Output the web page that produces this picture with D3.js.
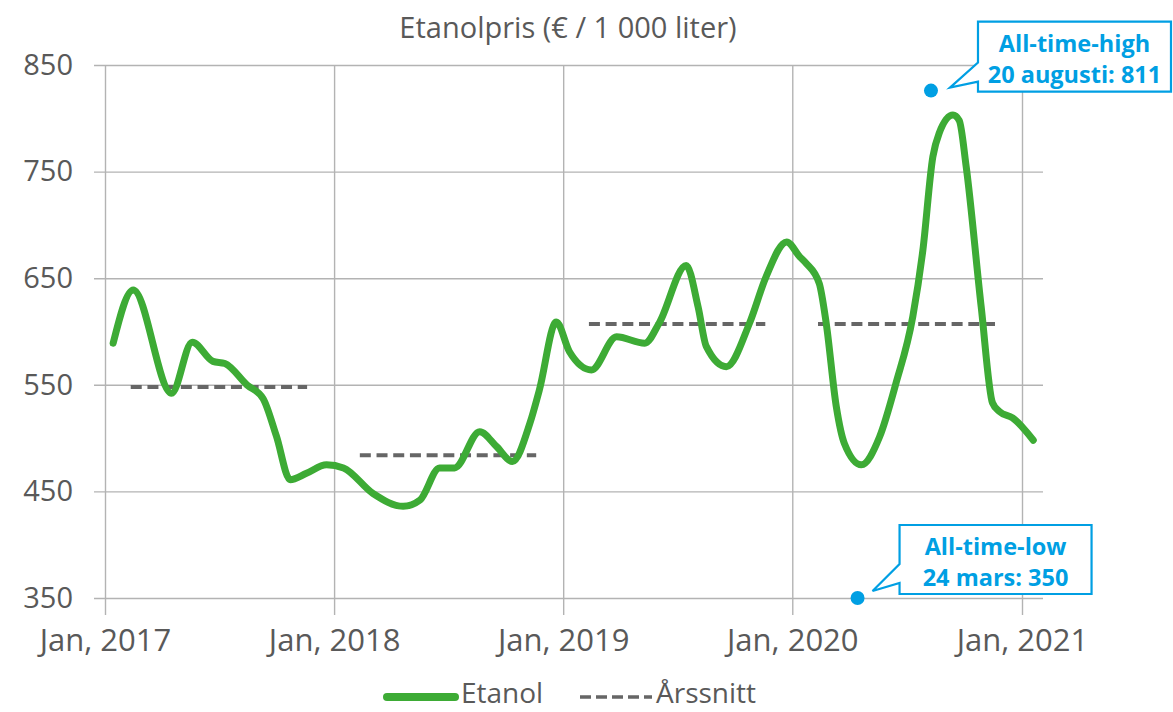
<!DOCTYPE html>
<html>
<head>
<meta charset="utf-8">
<script src="https://cdnjs.cloudflare.com/ajax/libs/d3/7.8.5/d3.min.js"></script>
<style>
  body { margin: 0; background: #fff; }
  text { font-family: "Open Sans", sans-serif; }
</style>
</head>
<body>
<svg id="chart" width="1173" height="712"></svg>
<script>
// ethanol price
var priceDates = ["2017-01-14","2017-02-15","2017-04-17","2017-05-20","2017-06-22","2017-07-11","2017-08-15","2017-09-10",
  "2017-10-01","2017-10-23","2017-11-18","2017-12-20","2018-01-16","2018-03-04","2018-04-21","2018-05-18","2018-06-18",
  "2018-07-12","2018-08-21","2018-09-17","2018-10-12","2018-11-09","2018-11-24","2018-12-21","2019-01-11","2019-02-15",
  "2019-03-27","2019-05-11","2019-06-03","2019-07-16","2019-08-04","2019-08-17","2019-09-18","2019-10-25","2019-11-20",
  "2019-12-23","2020-01-13","2020-01-23","2020-02-13","2020-02-24","2020-03-11","2020-03-24","2020-04-20","2020-05-19",
  "2020-06-14","2020-07-11","2020-07-27","2020-08-12","2020-08-22","2020-09-13","2020-09-23","2020-10-04","2020-10-28",
  "2020-11-15","2020-11-26","2020-12-17","2021-01-19"]
var priceValues = [589,639,542,590,572,570,550,537,
  502,461,467,475,472,448,436,442,472,
  472,506,492,478,514,545,609,581,564,
  595,589,608,662,623,586,567,608,651,
  684,670,664,645,608,530,495,475,501,
  551,614,676,764,786,803,798,755,623,
  533,525,519,498]

// yearly averages (Årssnitt)
var avgStart = ["2017-02-11","2018-02-11","2019-02-11","2020-02-11"]
var avgEnd = ["2017-11-19","2018-11-19","2019-11-19","2020-11-19"]
var avgValues = [548,484,607,607]

var yTicks = [350,450,550,650,750,850]
var xTickDates = ["2017-01-01","2018-01-01","2019-01-01","2020-01-01","2021-01-01"]
var xTickLabels = ["Jan, 2017","Jan, 2018","Jan, 2019","Jan, 2020","Jan, 2021"]

var noteLines = [["All-time-high","20 augusti: 811"],["All-time-low","24 mars: 350"]]
var noteDates = ["2020-08-09","2020-04-14"]
var noteValues = [826,350]

var green = "#3dab35", blue = "#009fe3", grey = "#595959";
var parse = d3.timeParse("%Y-%m-%d");

var svg = d3.select("#chart");
var x = d3.scaleTime().domain([parse("2017-01-01"), parse("2021-01-01")]).range([105, 1022]),
  y = d3.scaleLinear().domain([350, 850]).range([598, 65]);

//----------------------------------------------------------- title
svg.append("text").attr("x", 568).attr("y", 38).attr("text-anchor", "middle")
  .attr("fill", grey).style("font-size", "29px").text("Etanolpris (€ / 1 000 liter)");

//----------------------------------------------------------- grid + axes
var yAxis = svg.append("g").attr("transform", "translate(94,0)")
  .call(d3.axisLeft(y).tickValues(yTicks).tickSize(-949).tickPadding(21));
var xAxis = svg.append("g").attr("transform", "translate(0,615)")
  .call(d3.axisBottom(x).tickValues(xTickDates.map(parse)).tickSize(-550).tickPadding(14)
    .tickFormat((d, i) => xTickLabels[i]));
svg.selectAll(".domain").remove();
svg.selectAll(".tick line").attr("stroke", "#b3b3b3").attr("stroke-width", 1.4);
svg.selectAll(".tick text").attr("fill", grey).style("font-family", "Open Sans, sans-serif");
yAxis.selectAll(".tick text").style("font-size", "29px");
xAxis.selectAll(".tick text").style("font-size", "31px");

//----------------------------------------------------------- yearly averages
svg.selectAll(".avg").data(avgValues).join("line").attr("class", "avg")
  .attr("x1", (d, i) => x(parse(avgStart[i]))).attr("x2", (d, i) => x(parse(avgEnd[i])))
  .attr("y1", d => y(d)).attr("y2", d => y(d))
  .attr("stroke", "#666").attr("stroke-width", 4).attr("stroke-dasharray", "11,5.7");

//----------------------------------------------------------- price line
var priceData = priceDates.map((d, i) => ({ date: parse(d), value: priceValues[i] }));
var line = d3.line().x(d => x(d.date)).y(d => y(d.value)).curve(d3.curveMonotoneX);
svg.append("path").datum(priceData).attr("d", line)
  .attr("fill", "none").attr("stroke", green).attr("stroke-width", 7)
  .attr("stroke-linecap", "round").attr("stroke-linejoin", "round");

//----------------------------------------------------------- callouts
// offsets of each box from its dot: [left, top, right, bottom, notchTop, notchBottom, tipDx, tipDy]
var boxOffsets = [[47, -69, 240, 1, -28, -9, 19, -3], [42, -73, 234, -4, -34, -15, 15, -7]];
noteLines.forEach((lines, i) => {
  var cx = x(parse(noteDates[i])), cy = y(noteValues[i]), o = boxOffsets[i];
  var l = cx + o[0], t = cy + o[1], r = cx + o[2], b = cy + o[3];
  var path = d3.path();
  path.moveTo(l, cy + o[4]); path.lineTo(l, t); path.lineTo(r, t); path.lineTo(r, b); path.lineTo(l, b);
  path.lineTo(l, cy + o[5]); path.lineTo(cx + o[6], cy + o[7]); path.closePath();
  svg.append("path").attr("d", path.toString()).attr("fill", "#fff").attr("stroke", blue).attr("stroke-width", 2.2);
  svg.append("circle").attr("cx", cx).attr("cy", cy).attr("r", 7).attr("fill", blue);
  svg.selectAll(".note" + i).data(lines).join("text").attr("class", "note" + i)
    .attr("x", (l + r) / 2).attr("y", (d, j) => t + 30 + j * 31).attr("text-anchor", "middle")
    .attr("fill", blue).style("font-size", "23.5px").style("font-weight", "bold").text(d => d);
});

//----------------------------------------------------------- legend
var legend = svg.append("g").attr("transform", "translate(0,697)");
legend.append("line").attr("x1", 387).attr("x2", 455).attr("stroke", green).attr("stroke-width", 8).attr("stroke-linecap", "round");
legend.append("text").attr("x", 461).attr("y", 6).attr("fill", grey).style("font-size", "28px").text("Etanol");
legend.append("line").attr("x1", 580).attr("x2", 652).attr("stroke", "#666").attr("stroke-width", 3.5).attr("stroke-dasharray", "11,5");
legend.append("text").attr("x", 656).attr("y", 6).attr("fill", grey).style("font-size", "28px").text("Årssnitt");
</script>
</body>
</html>
